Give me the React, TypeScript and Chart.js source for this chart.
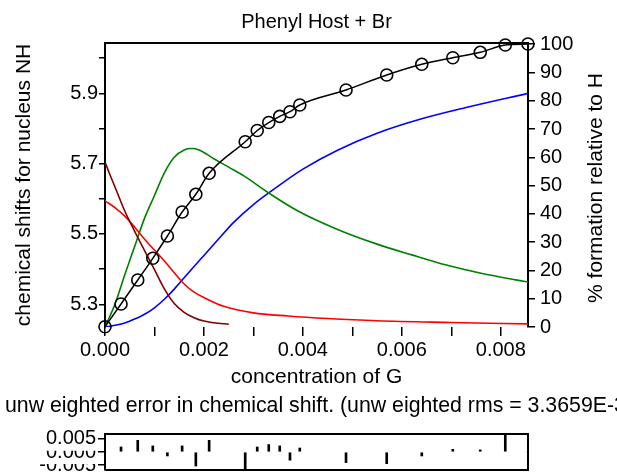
import React, { useEffect, useRef } from 'react';
import { Chart, registerables } from 'chart.js';

Chart.register(...registerables);

const FONT = '"Liberation Sans", Arial, Helvetica, sans-serif';

// ---- data ----
// concentration of G at each measured point
const concentration = [
  0, 0.000324, 0.000662, 0.000966, 0.001261, 0.001559, 0.001836, 0.002105,
  0.002834, 0.003077, 0.00331, 0.003532, 0.003739, 0.003937, 0.004872,
  0.005694, 0.006403, 0.00703, 0.007585, 0.008091, 0.008549,
];
// observed chemical shift of nucleus NH (circles)
const observedShift = [
  5.2363, 5.3009, 5.369, 5.4308, 5.4942, 5.5624, 5.6128, 5.6725, 5.7623,
  5.7942, 5.8169, 5.8345, 5.8476, 5.8667, 5.9093, 5.952, 5.9824, 6.0012,
  6.0165, 6.0373, 6.0401,
];
// unweighted error in chemical shift (residual plot)
const residualError = [
  0, 0.0019, 0.0044, 0.0023, -0.0015, 0.0023, -0.0053, 0.0044, -0.0068,
  0.0019, 0.0028, 0.0023, -0.0031, 0.0015, -0.004, -0.0044, -0.0015, 0.001,
  0.0008, 0.0066, 0,
];

// species curves, % formation relative to H
const maroonX = [0, 0.0001, 0.0002, 0.0004, 0.0006, 0.0008, 0.001, 0.0012, 0.0014, 0.0016, 0.0018, 0.002, 0.0022, 0.0025];
const maroonPct = [58.3, 53.8, 49.6, 41, 33.8, 27, 20.3, 13.5, 8.3, 5.2, 3.3, 2.1, 1.5, 1.0];

const redX = [0, 0.0002, 0.0004, 0.0006, 0.0008, 0.001, 0.0012, 0.0014, 0.0016, 0.0018, 0.002, 0.0024, 0.003, 0.0037, 0.0045, 0.0055, 0.007, 0.00855];
const redPct = [44.6, 42.2, 39.2, 35.3, 31, 27.2, 23.3, 19.2, 15.2, 12.3, 10.4, 7.3, 5, 3.9, 3, 2.2, 1.6, 1.1];

const greenX = [0, 0.0002, 0.0004, 0.0006, 0.0008, 0.001, 0.0012, 0.0014, 0.0016, 0.00175, 0.0019, 0.0022, 0.0025, 0.0028, 0.0033, 0.0039, 0.0047, 0.0055, 0.0062, 0.0069, 0.0076, 0.00855];
const greenPct = [0, 8, 18.5, 28.5, 38.5, 46.5, 54.5, 60, 62.6, 63.1, 62.6, 59.5, 56.5, 53.5, 47.5, 41, 34.5, 29.3, 25.5, 21.9, 19, 15.9];

const blueX = [0, 0.0002, 0.0004, 0.0006, 0.0008, 0.001, 0.0012, 0.0014, 0.0016, 0.0018, 0.002, 0.0023, 0.0026, 0.003, 0.0035, 0.004, 0.0047, 0.0055, 0.0064, 0.0073, 0.00855];
const bluePct = [0, 0.6, 1.4, 2.8, 4.5, 6.8, 9.8, 13.4, 17.4, 21.4, 25.3, 31.2, 37, 43.3, 49.8, 55.8, 62.5, 68.5, 73.6, 77.6, 82.6];

// ticks
const xTickValues = [0, 0.001, 0.002, 0.003, 0.004, 0.005, 0.006, 0.007, 0.008];
const xTickLabels = ['0.000', '', '0.002', '', '0.004', '', '0.006', '', '0.008'];
const shiftTickValues = [5.3, 5.4, 5.5, 5.6, 5.7, 5.8, 5.9, 6.0];
const shiftTickLabels = ['5.3', '', '5.5', '', '5.7', '', '5.9', ''];
const pctTickValues = [0, 10, 20, 30, 40, 50, 60, 70, 80, 90, 100];
const pctTickLabels = ['0', '10', '20', '30', '40', '50', '60', '70', '80', '90', '100'];
const resTickValues = [-0.005, 0, 0.005];
const resTickLabels = ['-0.005', '0.000', '0.005'];

const X_MAX = 0.00855;
const RES_TITLE = 'unw eighted error in chemical shift. (unw eighted rms = 3.3659E-3';

const pts = (xs: number[], ys: number[]) => xs.map((x, i) => ({ x, y: ys[i] }));

const framePlugin = {
  id: 'frameAndRightTitle',
  afterDraw(chart: any) {
    const { ctx, chartArea } = chart;
    ctx.save();
    ctx.strokeStyle = '#000';
    ctx.lineWidth = 2;
    ctx.beginPath();
    ctx.moveTo(chartArea.left - 1, chartArea.top);
    ctx.lineTo(chartArea.right + 1, chartArea.top);
    ctx.stroke();
    ctx.translate(596, 188);
    ctx.rotate(-Math.PI / 2);
    ctx.fillStyle = '#000';
    ctx.font = `21px ${FONT}`;
    ctx.textAlign = 'center';
    ctx.textBaseline = 'middle';
    ctx.fillText('% formation relative to H', 0, 0);
    ctx.restore();
  },
};

const boxPlugin = {
  id: 'residualBox',
  afterDraw(chart: any) {
    const { ctx, chartArea } = chart;
    ctx.save();
    ctx.strokeStyle = '#000';
    ctx.lineWidth = 2;
    ctx.beginPath();
    ctx.moveTo(chartArea.left, chartArea.top);
    ctx.lineTo(chartArea.right, chartArea.top);
    ctx.lineTo(chartArea.right, chartArea.bottom);
    ctx.lineTo(chartArea.left, chartArea.bottom);
    ctx.stroke();
    ctx.fillStyle = '#000';
    ctx.font = `21.3px ${FONT}`;
    ctx.textAlign = 'left';
    ctx.textBaseline = 'middle';
    ctx.fillText(RES_TITLE, 5, 14);
    ctx.restore();
  },
};

export default function App() {
  const mainRef = useRef<HTMLCanvasElement>(null);
  const resRef = useRef<HTMLCanvasElement>(null);

  useEffect(() => {
    document.body.style.margin = '0';
    Chart.defaults.font.family = FONT;
    Chart.defaults.color = '#000';

    const curve = (xs: number[], ys: number[], color: string) => ({
      data: pts(xs, ys),
      yAxisID: 'y1',
      borderColor: color,
      borderWidth: 1.6,
      pointRadius: 0,
      fill: false,
      cubicInterpolationMode: 'monotone',
    });

    const main = new Chart(mainRef.current as HTMLCanvasElement, {
      type: 'line',
      data: {
        datasets: [
          {
            data: pts(concentration, observedShift),
            yAxisID: 'y',
            borderColor: '#000',
            borderWidth: 1.5,
            pointRadius: 6,
            pointBorderWidth: 1.6,
            pointBorderColor: '#000',
            pointBackgroundColor: 'rgba(0,0,0,0)',
            cubicInterpolationMode: 'monotone',
            clip: false,
          },
          curve(maroonX, maroonPct, '#800000'),
          curve(redX, redPct, '#ff0000'),
          curve(greenX, greenPct, '#008000'),
          curve(blueX, bluePct, '#0000ff'),
        ],
      } as any,
      options: {
        animation: false,
        responsive: false,
        devicePixelRatio: 1,
        layout: { padding: 0 },
        plugins: {
          legend: { display: false },
          tooltip: { enabled: false },
          title: {
            display: true,
            text: 'Phenyl Host + Br',
            fullSize: false,
            color: '#000',
            font: { family: FONT, size: 20, weight: 'normal' },
            padding: { top: 10, bottom: 9 },
          },
        },
        scales: {
          x: {
            type: 'linear',
            position: 'bottom',
            min: 0,
            max: X_MAX,
            border: { display: false },
            grid: { drawOnChartArea: false, drawTicks: true, tickLength: 9, color: '#000', lineWidth: 1.5 },
            ticks: {
              color: '#000',
              font: { family: FONT, size: 20 },
              padding: 2,
              maxRotation: 0,
              autoSkip: false,
              callback: (_v: any, i: number) => xTickLabels[i],
            },
            afterBuildTicks: (s: any) => { s.ticks = xTickValues.map((v) => ({ value: v })); },
            afterFit: (s: any) => { s.height = 65; },
            title: {
              display: true,
              text: 'concentration of G',
              color: '#000',
              font: { family: FONT, size: 21 },
              padding: { top: 0, bottom: 2 },
            },
          },
          y: {
            type: 'linear',
            position: 'left',
            min: 5.2355,
            max: 6.043,
            border: { display: true, color: '#000', width: 2 },
            grid: { drawOnChartArea: false, drawTicks: true, tickLength: 6, color: '#000', lineWidth: 1.5 },
            ticks: {
              color: '#000',
              font: { family: FONT, size: 20 },
              padding: 1,
              autoSkip: false,
              callback: (_v: any, i: number) => shiftTickLabels[i],
            },
            afterBuildTicks: (s: any) => { s.ticks = shiftTickValues.map((v) => ({ value: v })); },
            afterFit: (s: any) => { s.width = 105; },
            title: {
              display: true,
              text: 'chemical shifts for nucleus NH',
              color: '#000',
              font: { family: FONT, size: 21 },
              padding: { top: 12, bottom: 0 },
            },
          },
          y1: {
            type: 'linear',
            position: 'right',
            min: 0,
            max: 100.4,
            border: { display: true, color: '#000', width: 2 },
            grid: { drawOnChartArea: false, drawTicks: true, tickLength: 7, color: '#000', lineWidth: 1.5 },
            ticks: {
              color: '#000',
              font: { family: FONT, size: 20 },
              padding: 5,
              autoSkip: false,
              callback: (_v: any, i: number) => pctTickLabels[i],
            },
            afterBuildTicks: (s: any) => { s.ticks = pctTickValues.map((v) => ({ value: v })); },
            afterFit: (s: any) => { s.width = 89; },
          },
        },
      } as any,
      plugins: [framePlugin],
    });

    const res = new Chart(resRef.current as HTMLCanvasElement, {
      type: 'bar',
      data: {
        datasets: [
          {
            data: pts(concentration, residualError),
            backgroundColor: '#000',
            borderWidth: 0,
            barThickness: 2,
          },
        ],
      } as any,
      options: {
        animation: false,
        responsive: false,
        devicePixelRatio: 1,
        layout: { padding: { left: 4, right: 89, top: 42, bottom: 3 } },
        plugins: {
          legend: { display: false },
          tooltip: { enabled: false },
          title: { display: false },
        },
        scales: {
          x: {
            type: 'linear',
            min: 0,
            max: X_MAX,
            offset: false,
            display: false,
            grid: { offset: false },
          },
          y: {
            type: 'linear',
            position: 'left',
            min: -0.0068,
            max: 0.0068,
            border: { display: true, color: '#000', width: 2 },
            grid: { drawOnChartArea: false, drawTicks: true, tickLength: 7, color: '#000', lineWidth: 1.5 },
            ticks: {
              color: '#000',
              font: { family: FONT, size: 20 },
              padding: 2,
              autoSkip: false,
              showLabelBackdrop: true,
              backdropColor: '#fff',
              backdropPadding: 0,
              callback: (_v: any, i: number) => resTickLabels[i],
            },
            afterBuildTicks: (s: any) => { s.ticks = resTickValues.map((v) => ({ value: v })); },
            afterFit: (s: any) => { s.width = 101; s.paddingTop = 0; s.paddingBottom = 0; },
          },
        },
      } as any,
      plugins: [boxPlugin],
    });

    return () => {
      main.destroy();
      res.destroy();
    };
  }, []);

  return (
    <div style={{ position: 'absolute', left: 0, top: 0, width: 617, height: 473, background: '#fff', overflow: 'hidden' }}>
      <canvas ref={mainRef} width={617} height={392} style={{ position: 'absolute', left: 0, top: 0, width: 617, height: 392 }} />
      <canvas ref={resRef} width={617} height={81} style={{ position: 'absolute', left: 0, top: 392, width: 617, height: 81 }} />
    </div>
  );
}
